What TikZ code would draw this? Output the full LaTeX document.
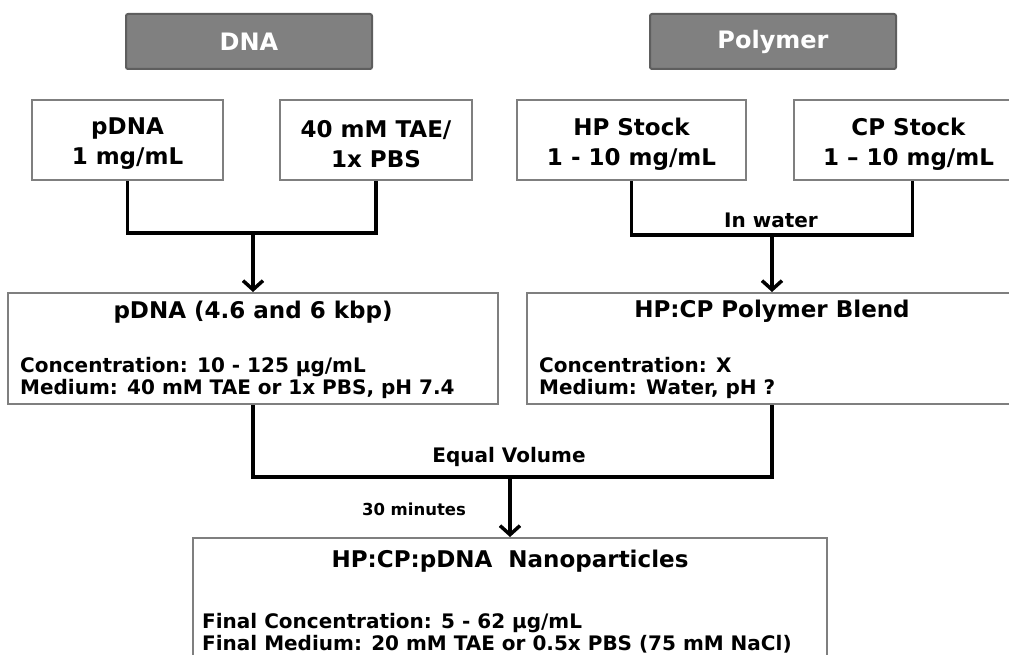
\documentclass[tikz,border=0pt]{standalone}
\usepackage{fontspec}
\setmainfont{DejaVu Sans}
\usetikzlibrary{arrows.meta}
\definecolor{hdrfill}{HTML}{808080}
\definecolor{hdrline}{HTML}{5E5E5E}
\definecolor{boxline}{HTML}{7F7F7F}
\tikzset{
 hdr/.style={draw=hdrline, fill=hdrfill, line width=2pt, rounded corners=2pt, minimum width=246pt, minimum height=55pt, inner sep=0pt, text=white, font=\bfseries\fontsize{24}{28}\selectfont},
 srcbox/.style={draw=boxline, line width=2pt, fill=white, minimum height=80pt, inner sep=0pt, align=center},
 srctext/.style={align=center, inner sep=0pt, font=\bfseries\fontsize{23}{30}\selectfont},
 bigbox/.style={draw=boxline, line width=2pt, fill=white, minimum width=490pt, minimum height=111pt, inner sep=0pt},
 titletext/.style={font=\bfseries\fontsize{23}{28}\selectfont, inner sep=0pt},
 bodytext/.style={font=\bfseries\fontsize{20}{21.5}\selectfont, align=left, inner sep=0pt, anchor=west},
 conn/.style={line width=3.5pt},
 arr/.style={line width=3.5pt, -{Straight Barb[length=9pt,width=20pt,line width=3.5pt]}},
 lbl/.style={font=\bfseries\fontsize{20}{24}\selectfont, inner sep=0pt},
}
\begin{document}
\begin{tikzpicture}[x=1pt,y=-1pt]
\useasboundingbox (0,0) rectangle (1009,655);
\clip (0,0) rectangle (1009,655);
\fill[white] (0,0) rectangle (1009,655);
% headers
\node[hdr] (hdna) at (249,41.5) {DNA};
\node[hdr] (hpoly) at (773,41.5) {Polymer};
% source boxes
\node[srcbox, minimum width=191pt] (pdna) at (127.5,140) {};
\node[srctext] (pdnat) at (127.5,144) {pDNA\\1 mg/mL};
\node[srcbox, minimum width=192pt] (tae) at (376,140) {};
\node[srctext] (taet) at (376,144) {40 mM TAE/\\1x PBS};
\node[srcbox, minimum width=229pt] (hp) at (631.5,140) {};
\node[srctext] (hpt) at (631.5,144) {HP Stock\\1 - 10 mg/mL};
\node[srcbox, minimum width=229pt] (cp) at (908.5,140) {};
\node[srctext] (cpt) at (908.5,144) {CP Stock\\1 -- 10 mg/mL};
% mix boxes
\node[bigbox] (mix) at (253,348.5) {};
\node[titletext] (mixt) at (253,312) {pDNA (4.6 and 6 kbp)};
\node[bodytext] (mixb) at (20,378) {Concentration: 10 - 125 µg/mL\\Medium: 40 mM TAE or 1x PBS, pH 7.4};
\node[bigbox] (blend) at (772,348.5) {};
\node[titletext] (blendt) at (772,311) {HP:CP Polymer Blend};
\node[bodytext] (blendb) at (539,378) {Concentration: X\\Medium: Water, pH ?};
% nanoparticles
\node[draw=boxline, line width=2pt, fill=white, minimum width=634pt, minimum height=130pt, inner sep=0pt] (nano) at (510,603) {};
\node[titletext] (nanot) at (510,561) {HP:CP:pDNA\ \ Nanoparticles};
\node[bodytext] (nanob) at (202,633) {Final Concentration: 5 - 62 µg/mL\\Final Medium: 20 mM TAE or 0.5x PBS (75 mM NaCl)};
% junctions
\coordinate (j1) at (253,233);
\coordinate (j2) at (772,235);
\coordinate (j3) at (510,477);
\draw[conn] (pdna.south) |- (j1) -| (tae.south);
\draw[arr] (j1) -- (mix.north);
\draw[conn] (hp.south) |- (j2) -| ([xshift=4pt]cp.south);
\draw[arr] (j2) -- (blend.north);
\draw[conn] (mix.south) |- (j3) -| (blend.south);
\draw[arr] (j3) -- (nano.north);
% labels
\node[lbl] (inwater) at (771,220) {In water};
\node[lbl] (eqvol) at (509,457) {Equal Volume};
\node[lbl, font=\bfseries\fontsize{16.5}{20}\selectfont] (min30) at (414,509) {30 minutes};
\end{tikzpicture}
\end{document}
